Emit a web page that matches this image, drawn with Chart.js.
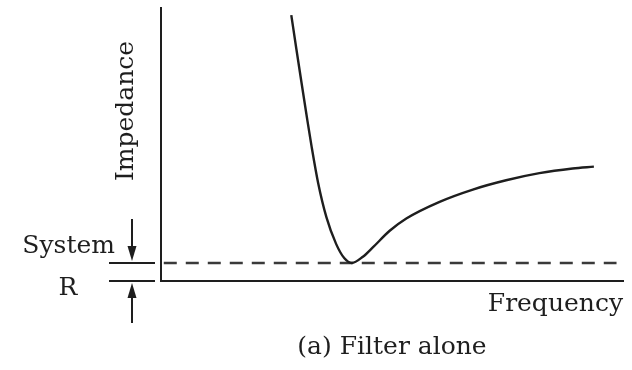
<!DOCTYPE html>
<html>
<head>
<meta charset="utf-8">
<script src="https://cdn.jsdelivr.net/npm/chart.js@4"></script>
<style>
  html, body { margin: 0; padding: 0; background: #fff; }
  #wrap { width: 632px; height: 370px; }
</style>
</head>
<body>
<div id="wrap"><canvas id="chart" width="632" height="370"></canvas></div>
<script>
// --- data (arbitrary units) ---
const frequency = [28.2, 29.3, 30.4, 31.5, 32.6, 34.0, 35.8, 37.9, 39.7, 41.3, 43.7, 45.9, 49.5, 53.1, 60.3, 67.5, 74.7, 81.9, 89.1, 93.7];
const impedance = [97.4, 85.0, 72.8, 60.8, 49.2, 36.0, 23.4, 13.6, 8.3, 6.6, 8.9, 12.4, 18.4, 22.9, 29.0, 33.5, 36.9, 39.5, 41.2, 41.9];
const systemR = 6.6;
const systemRSpan = [0.6, 98.6];   // where the dashed "system R" line runs

const xTitle = 'Frequency';
const yTitle = 'Impedance';
const caption = '(a) Filter alone';
const rLabels = ['System', 'R'];

const INK = '#1e1e1e';
const FONT = '"DejaVu Serif", "Liberation Serif", serif';

// draws the "System R" marker, arrows and the rotated y label
const annotate = {
  id: 'annotate',
  afterDraw(chart) {
    const ctx = chart.ctx;
    const xs = chart.scales.x, ys = chart.scales.y;
    const left = xs.left;
    const yR = ys.getPixelForValue(systemR);
    const y0 = ys.getPixelForValue(0);
    const ax = left - 29;

    ctx.save();
    ctx.strokeStyle = INK;
    ctx.fillStyle = INK;
    ctx.lineWidth = 2;

    // short bars marking the R band
    ctx.beginPath();
    ctx.moveTo(left - 52, yR); ctx.lineTo(left - 6, yR);
    ctx.moveTo(left - 52, y0); ctx.lineTo(left - 6, y0);
    ctx.stroke();

    const arrow = (from, tip) => {
      const dir = Math.sign(tip - from);
      ctx.beginPath();
      ctx.moveTo(ax, from); ctx.lineTo(ax, tip - dir * 10);
      ctx.stroke();
      ctx.beginPath();
      ctx.moveTo(ax, tip);
      ctx.lineTo(ax - 4.5, tip - dir * 15);
      ctx.lineTo(ax + 4.5, tip - dir * 15);
      ctx.closePath();
      ctx.fill();
    };
    arrow(yR - 44, yR - 2);
    arrow(y0 + 42, y0 + 2);

    ctx.font = '25px ' + FONT;
    ctx.textBaseline = 'alphabetic';
    ctx.textAlign = 'right';
    ctx.fillText(rLabels[0], left - 46, yR - 10);
    ctx.textAlign = 'center';
    ctx.fillText(rLabels[1], left - 93, y0 + 14);

    // rotated y label
    ctx.translate(left - 28, 111);
    ctx.rotate(-Math.PI / 2);
    ctx.fillText(yTitle, 0, 0);
    ctx.restore();
  }
};

new Chart(document.getElementById('chart'), {
  type: 'line',
  data: {
    datasets: [
      {
        label: 'Filter impedance',
        data: frequency.map((f, i) => ({ x: f, y: impedance[i] })),
        borderColor: INK,
        borderWidth: 2.4,
        pointRadius: 0,
        cubicInterpolationMode: 'monotone',
        fill: false
      },
      {
        label: 'System R',
        data: systemRSpan.map(f => ({ x: f, y: systemR })),
        borderColor: '#3a3a3a',
        borderWidth: 2.4,
        borderDash: [13, 9],
        pointRadius: 0,
        fill: false
      }
    ]
  },
  options: {
    responsive: false,
    animation: false,
    layout: { padding: { left: 161, top: 8, right: 9, bottom: 8 } },
    scales: {
      x: {
        type: 'linear', min: 0, max: 100,
        grid: { display: false, drawTicks: false },
        ticks: { display: false },
        border: { display: true, color: INK, width: 2 },
        title: {
          display: true, text: xTitle, align: 'end', color: INK,
          font: { family: FONT, size: 25 },
          padding: { top: 8, bottom: 5 }
        }
      },
      y: {
        type: 'linear', min: 0, max: 100,
        grid: { display: false, drawTicks: false },
        ticks: { display: false },
        border: { display: true, color: INK, width: 2 }
      }
    },
    plugins: {
      legend: { display: false },
      tooltip: { enabled: false },
      title: {
        display: true, position: 'bottom', fullSize: false,
        text: caption, color: INK,
        font: { family: FONT, size: 25, weight: 'normal' },
        padding: { top: 8, bottom: 0 }
      }
    }
  },
  plugins: [annotate]
});
</script>
</body>
</html>
